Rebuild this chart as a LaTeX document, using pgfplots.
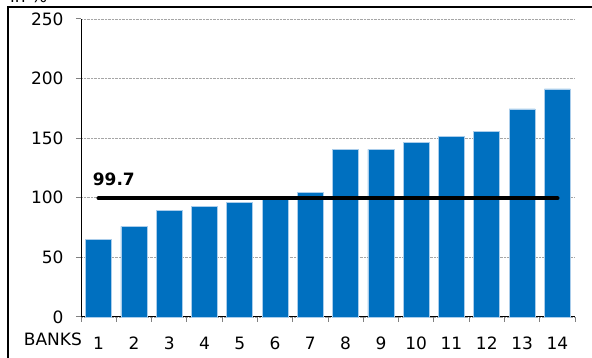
\documentclass[border=0pt]{standalone}
\usepackage{pgfplots}
\pgfplotsset{compat=1.18}
\usepackage{fontspec}
\setmainfont{DejaVu Sans}
\definecolor{barblue}{RGB}{0,112,192}
\definecolor{baredge}{RGB}{170,205,235}
\begin{document}
\begin{tikzpicture}[x=1pt,y=1pt]
\useasboundingbox (0,0) rectangle (592,358);
% frame along the top and left
\draw[line width=1.8pt] (8,0) -- (8,351) -- (600,351);
\node[anchor=base west,font=\fontsize{17}{20}\selectfont,inner sep=0pt] at (10,355) {in \%};
\begin{axis}[
  at={(81pt,41pt)}, anchor=south west,
  scale only axis, width=494pt, height=298pt,
  xmin=0.5, xmax=14.5, ymin=0, ymax=250,
  axis x line*=bottom, axis y line*=left,
  axis line style={line width=1pt},
  xtick={1,...,14}, major x tick style={draw=none},
  minor xtick={0.5,1.5,...,14.5},
  minor x tick style={line width=1pt},
  minor tick length=5pt,
  ytick={0,50,...,250},
  major y tick style={line width=1pt},
  major tick length=5pt,
  tick align=outside,
  ymajorgrids,
  grid style={densely dotted, gray!70, line width=0.8pt},
  ticklabel style={font=\fontsize{17}{20}\selectfont},
  yticklabel style={xshift=-9pt},
  xticklabel style={anchor=base, yshift=-28pt},
  /pgf/number format/assume math mode=true,
  clip=false,
]
\addplot[ybar, bar width=26pt, fill=barblue, draw=baredge, line width=0.6pt]
  coordinates {(1,65.4) (2,76) (3,89.2) (4,92.8) (5,96.2) (6,99.3) (7,104.4)
               (8,140.5) (9,140.6) (10,146.5) (11,151.8) (12,155.8) (13,174.5) (14,191.3)};
\addplot[black, line width=4.3pt, line cap=round] coordinates {(1,99.7) (14,99.7)};
\node[anchor=base west, font=\bfseries\fontsize{17}{20}\selectfont, inner sep=0pt]
  at (axis cs:0.83,110.2) {99.7};
\node[anchor=base east, font=\fontsize{17}{20}\selectfont, inner sep=0pt]
  at (axis cs:0.53,-23.5) {BANKS};
\end{axis}
\end{tikzpicture}
\end{document}
